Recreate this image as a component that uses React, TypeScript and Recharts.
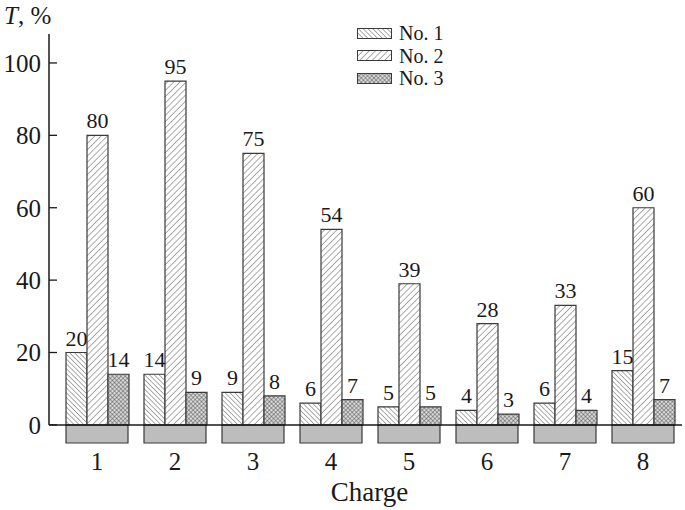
import { BarChart, Bar, XAxis, YAxis, ReferenceLine, Legend, LabelList, Label } from 'recharts'

const CHARGES = ['1', '2', '3', '4', '5', '6', '7', '8']
const NO1 = [20, 14, 9, 6, 5, 4, 6, 15]
const NO2 = [80, 95, 75, 54, 39, 28, 33, 60]
const NO3 = [14, 9, 8, 7, 5, 3, 4, 7]
// grey plinth drawn under every group
const BASE = [-5, -5, -5, -5, -5, -5, -5, -5]
const Y_TICKS = [0, 20, 40, 60, 80, 100]
const Y_TOP = 108

const SERIF = 'Liberation Serif, Times New Roman, Times, serif'
const INK = '#1a1a1a'
const EDGE = '#3a3a3a'

const SERIES = [
  { key: 'no1', name: 'No. 1', fill: 'url(#hatchBack)' },
  { key: 'no2', name: 'No. 2', fill: 'url(#hatchFwd)' },
  { key: 'no3', name: 'No. 3', fill: 'url(#hatchCross)' },
]

const data = CHARGES.map((charge, i) => ({
  charge,
  no1: NO1[i],
  no2: NO2[i],
  no3: NO3[i],
  base: BASE[i],
}))

const Patterns = () => (
  <svg width={0} height={0} style={{ position: 'absolute' }}>
    <defs>
      <pattern id="hatchBack" width={3.4} height={3.4} patternUnits="userSpaceOnUse" patternTransform="rotate(-45)">
        <rect width={3.4} height={3.4} fill="#fff" />
        <line x1={0} y1={0} x2={0} y2={3.4} stroke="#444" strokeWidth={0.9} />
      </pattern>
      <pattern id="hatchFwd" width={4.4} height={4.4} patternUnits="userSpaceOnUse" patternTransform="rotate(45)">
        <rect width={4.4} height={4.4} fill="#fff" />
        <line x1={0} y1={0} x2={0} y2={4.4} stroke="#444" strokeWidth={0.9} />
      </pattern>
      <pattern id="hatchCross" width={3} height={3} patternUnits="userSpaceOnUse" patternTransform="rotate(45)">
        <rect width={3} height={3} fill="#d8d8d8" />
        <line x1={0} y1={0} x2={0} y2={3} stroke="#4a4a4a" strokeWidth={0.9} />
        <line x1={0} y1={0} x2={3} y2={0} stroke="#4a4a4a" strokeWidth={0.9} />
      </pattern>
    </defs>
  </svg>
)

const renderLegend = () => (
  <div style={{ fontFamily: SERIF, fontSize: 20, color: INK }}>
    {SERIES.map((s) => (
      <div key={s.key} style={{ display: 'flex', alignItems: 'center', height: 22.5 }}>
        <svg width={35} height={11}>
          <rect x={0.5} y={0.5} width={34} height={10} fill={s.fill} stroke={EDGE} />
        </svg>
        <span style={{ marginLeft: 7, lineHeight: 1 }}>{s.name}</span>
      </div>
    ))}
  </div>
)

const AxisTitle = () => (
  <text x={4} y={24} fontFamily={SERIF} fontSize={25} fill={INK}>
    <tspan fontStyle="italic">T</tspan>
    <tspan>, %</tspan>
  </text>
)

export default function App() {
  return (
    <div style={{ position: 'fixed', left: 0, top: 0, width: 685, height: 510, background: '#fff' }}>
      <Patterns />
      <BarChart
        width={685}
        height={510}
        data={data}
        margin={{ top: 34, right: 3, left: 0, bottom: 0 }}
        barCategoryGap={8}
        barGap={0}
      >
        <XAxis
          dataKey="charge"
          axisLine={false}
          tickLine={false}
          tickMargin={3}
          height={67}
          padding={{ left: 9, right: 0 }}
          tick={{ fontFamily: SERIF, fontSize: 25, fill: INK }}
        >
          <Label value="Charge" position="insideBottom" offset={9} dx={4} fontFamily={SERIF} fontSize={27} fill={INK} />
        </XAxis>
        <XAxis xAxisId="base" dataKey="charge" hide padding={{ left: 9, right: 0 }} />
        <XAxis xAxisId="num" type="number" domain={[0, 1]} hide />
        <YAxis
          width={49}
          domain={[BASE[0], Y_TOP]}
          ticks={Y_TICKS}
          axisLine={false}
          tickSize={-8}
          tickMargin={16}
          tickLine={{ stroke: INK, strokeWidth: 1.3 }}
          tick={{ fontFamily: SERIF, fontSize: 25, fill: INK }}
          label={<Label content={AxisTitle} />}
        />
        <Legend
          layout="vertical"
          verticalAlign="middle"
          align="center"
          wrapperStyle={{ left: 357, top: 22, width: 'auto' }}
          content={renderLegend}
        />
        <Bar
          dataKey="base"
          xAxisId="base"
          fill="#bdbdbd"
          stroke={EDGE}
          strokeWidth={1.2}
          isAnimationActive={false}
          legendType="none"
        />
        {SERIES.map((s) => (
          <Bar
            key={s.key}
            dataKey={s.key}
            name={s.name}
            fill={s.fill}
            stroke={EDGE}
            strokeWidth={1.2}
            isAnimationActive={false}
          >
            <LabelList dataKey={s.key} position="top" offset={7} fontFamily={SERIF} fontSize={22} fill={INK} />
          </Bar>
        ))}
        <ReferenceLine y={0} stroke={INK} strokeWidth={1.5} />
        <ReferenceLine
          xAxisId="num"
          segment={[{ x: 0, y: 0 }, { x: 0, y: Y_TOP }]}
          stroke={INK}
          strokeWidth={1.5}
        />
      </BarChart>
    </div>
  )
}
